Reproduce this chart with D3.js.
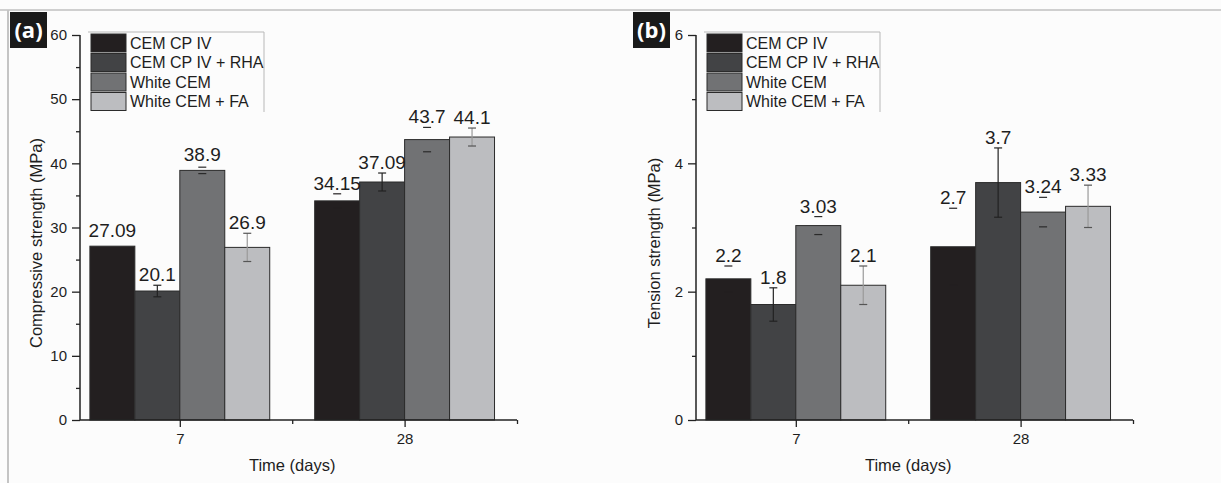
<!DOCTYPE html>
<html>
<head>
<meta charset="utf-8">
<script src="https://cdn.jsdelivr.net/npm/d3@7"></script>
<style>
  html, body { margin: 0; padding: 0; background: #fcfcfc; }
  svg { display: block; font-family: "Liberation Sans", Arial, sans-serif; }
</style>
</head>
<body>
<script>
const width = 1221,
  height = 483;

const days = ["7", "28"];
const series = ["CEM CP IV", "CEM CP IV + RHA", "White CEM", "White CEM + FA"];

// compressive strength (MPa), one array per age
const compressive7 = [27.09, 20.1, 38.9, 26.9];
const compressive28 = [34.15, 37.09, 43.7, 44.1];
const compressiveErr7 = [0, 0.9, 0.5, 2.2];
const compressiveErr28 = [1.1, 1.4, 1.9, 1.4];

// tension strength (MPa)
const tension7 = [2.2, 1.8, 3.03, 2.1];
const tension28 = [2.7, 3.7, 3.24, 3.33];
const tensionErr7 = [0.2, 0.26, 0.14, 0.3];
const tensionErr28 = [0.6, 0.54, 0.23, 0.33];

const compressiveTicks = [0, 10, 20, 30, 40, 50, 60];
const tensionTicks = [0, 2, 4, 6];

const fills = ["#231f20", "#424345", "#717274", "#bcbdc0"];
// error bar stems / caps per series (the scan loses most stems)
const stemColors = ["none", "#222", "none", "#9a9a9a"];
const capColors = ["#231f20", "#222", "#2a2a2a", "#555"];

const svg = d3.select("body").append("svg")
  .attr("width", width)
  .attr("height", height);

// frame lines of the figure
svg.append("line").attr("x1", 0).attr("x2", width).attr("y1", 10).attr("y2", 10)
  .attr("stroke", "#cfcfcf").attr("stroke-width", 2);
svg.append("line").attr("x1", 8).attr("x2", 8).attr("y1", 10).attr("y2", height)
  .attr("stroke", "#c4c4c4").attr("stroke-width", 2);

function drawPanel(opts) {
  const left = opts.left, right = opts.left + 437, top = 35, bottom = 420;
  const g = svg.append("g");

  const x = d3.scaleLinear().domain([0.556, 2.5]).range([left, right]);
  const y = d3.scaleLinear().domain([0, opts.max]).range([bottom, top]);

  // panel tag
  g.append("rect").attr("x", opts.tagX).attr("y", 12).attr("width", 37).attr("height", 36)
    .attr("fill", "#1a1a1a");
  g.append("text").attr("x", opts.tagX + 18.5).attr("y", 38)
    .attr("text-anchor", "middle").attr("fill", "#fff")
    .attr("font-family", "'Open Sans', sans-serif").attr("font-weight", 700)
    .attr("font-size", 22).text(opts.tag);

  // bars
  const rows = [];
  opts.values.forEach((vals, gi) => {
    vals.forEach((v, si) => {
      rows.push({ cat: gi + 1, si, v, e: opts.errors[gi][si] });
    });
  });

  const bw = 0.2;
  g.selectAll("rect.bar").data(rows).enter().append("rect")
    .attr("class", "bar")
    .attr("x", d => x(d.cat + (d.si - 2) * bw))
    .attr("width", d => x(d.cat + (d.si - 1) * bw) - x(d.cat + (d.si - 2) * bw))
    .attr("y", d => y(d.v))
    .attr("height", d => y(0) - y(d.v))
    .attr("fill", d => fills[d.si])
    .attr("stroke", "#2b2b2b")
    .attr("stroke-width", 1);

  // error bars
  const eb = g.selectAll("g.err").data(rows.filter(d => d.e > 0)).enter().append("g")
    .attr("stroke-width", 1.2);
  const cx = d => x(d.cat + (d.si - 1.5) * bw);
  eb.append("line").attr("x1", cx).attr("x2", cx)
    .attr("stroke", d => stemColors[d.si])
    .attr("y1", d => y(d.v + d.e)).attr("y2", d => y(d.v - d.e));
  eb.append("line").attr("x1", d => cx(d) - 4).attr("x2", d => cx(d) + 4)
    .attr("stroke", d => capColors[d.si])
    .attr("y1", d => y(d.v + d.e)).attr("y2", d => y(d.v + d.e));
  eb.append("line").attr("x1", d => cx(d) - 4).attr("x2", d => cx(d) + 4)
    .attr("stroke", d => capColors[d.si])
    .attr("y1", d => y(d.v - d.e)).attr("y2", d => y(d.v - d.e));

  // value labels
  g.selectAll("text.val").data(rows).enter().append("text")
    .attr("class", "val")
    .attr("x", cx)
    .attr("y", d => Math.min(y(d.v) - 9, y(d.v + d.e) - 4))
    .attr("text-anchor", "middle")
    .attr("font-size", 19)
    .attr("fill", "#1e1e1e")
    .text(d => d.v);

  // y axis
  const yAxis = g.append("g").attr("transform", `translate(${left},0)`)
    .call(d3.axisLeft(y).tickValues(opts.ticks).tickSize(8).tickPadding(5).tickFormat(d3.format("d")));
  yAxis.append("g").call(d3.axisLeft(y).tickValues(opts.ticks.slice(1).map(t => t - opts.ticks[1] / 2))
    .tickSize(4).tickFormat(""));
  yAxis.selectAll("path.domain").remove();
  yAxis.append("line").attr("x1", 0).attr("x2", 0).attr("y1", top).attr("y2", bottom)
    .attr("stroke", "#222").attr("stroke-width", 1.5);

  // x axis
  const xAxis = g.append("g").attr("transform", `translate(0,${bottom})`)
    .call(d3.axisBottom(x).tickValues([1, 2]).tickSize(7).tickPadding(6)
      .tickFormat((d, i) => days[i]));
  xAxis.append("g").call(d3.axisBottom(x).tickValues([1.5, 2.5]).tickSize(4).tickFormat(""));
  xAxis.selectAll("path.domain").remove();
  xAxis.append("line").attr("x1", left).attr("x2", right)
    .attr("stroke", "#222").attr("stroke-width", 1.5);

  g.selectAll(".tick line").attr("stroke", "#222").attr("stroke-width", 1.3);
  g.selectAll(".tick text").attr("font-size", 15).attr("fill", "#1e1e1e")
    .attr("font-family", "'Liberation Sans', Arial, sans-serif");

  // axis titles
  g.append("text")
    .attr("transform", `translate(${opts.titleX},243) rotate(-90)`)
    .attr("text-anchor", "middle").attr("font-size", 16.5).attr("fill", "#1e1e1e")
    .text(opts.yTitle);
  g.append("text")
    .attr("x", x(1.5)).attr("y", 471)
    .attr("text-anchor", "middle").attr("font-size", 16.5).attr("fill", "#1e1e1e")
    .text("Time (days)");

  // legend
  const lg = g.append("g");
  lg.append("line").attr("x1", left + 8).attr("x2", left + 184).attr("y1", 32).attr("y2", 32)
    .attr("stroke", "#b8b8b8").attr("stroke-width", 1);
  lg.append("line").attr("x1", left + 184).attr("x2", left + 184).attr("y1", 32).attr("y2", 112)
    .attr("stroke", "#b8b8b8").attr("stroke-width", 1);
  const items = lg.selectAll("g.item").data(series).enter().append("g")
    .attr("transform", (d, i) => `translate(${left + 11},${34 + i * 19.5})`);
  items.append("rect").attr("width", 35).attr("height", 18)
    .attr("fill", (d, i) => fills[i]).attr("stroke", "#2b2b2b").attr("stroke-width", 1);
  items.append("text").attr("x", 39).attr("y", 14.5)
    .attr("font-size", 16).attr("fill", "#1e1e1e").text(d => d);
}

drawPanel({
  left: 80, tagX: 10, tag: "(a)", max: 60, ticks: compressiveTicks,
  values: [compressive7, compressive28], errors: [compressiveErr7, compressiveErr28],
  yTitle: "Compressive strength (MPa)", titleX: 42
});

drawPanel({
  left: 696, tagX: 633, tag: "(b)", max: 6, ticks: tensionTicks,
  values: [tension7, tension28], errors: [tensionErr7, tensionErr28],
  yTitle: "Tension strength (MPa)", titleX: 660
});
</script>
</body>
</html>
